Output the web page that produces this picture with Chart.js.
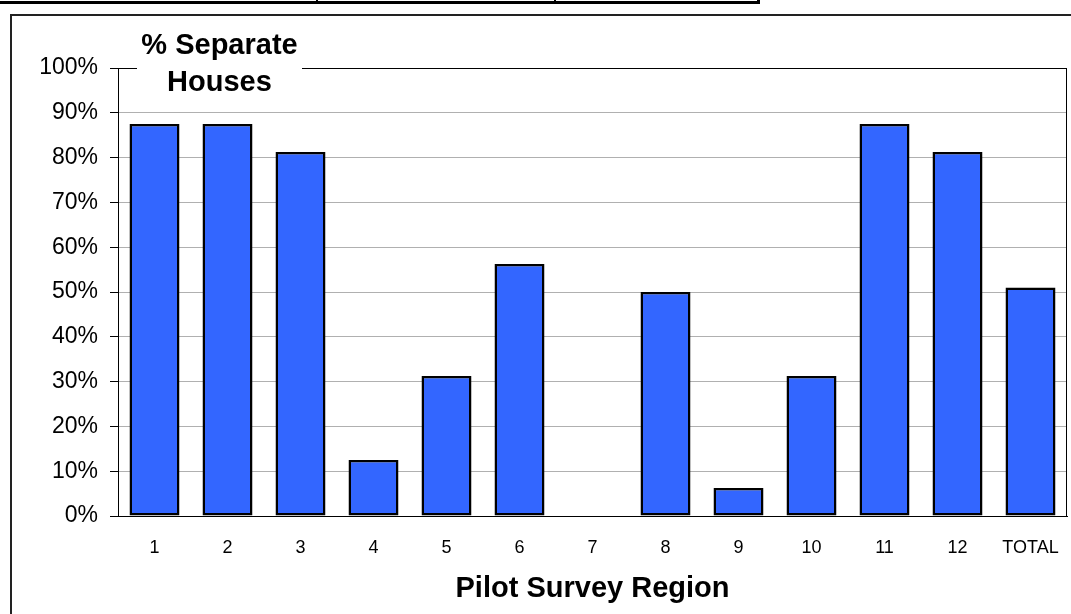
<!DOCTYPE html>
<html>
<head>
<meta charset="utf-8">
<title>% Separate Houses by Pilot Survey Region</title>
<script src="https://cdn.jsdelivr.net/npm/chart.js@4.4.1/dist/chart.umd.min.js"></script>
<style>
  html, body { margin: 0; padding: 0; background: #ffffff; }
  #regionChart { display: block; }
</style>
</head>
<body>
<canvas id="regionChart" width="1071" height="614"></canvas>
<script>
// Categories and values
const regions = ['1', '2', '3', '4', '5', '6', '7', '8', '9', '10', '11', '12', 'TOTAL'];
const separatePct = [87.5, 87.5, 81.25, 12.5, 31.25, 56.25, 0, 50, 6.25, 31.25, 87.5, 81.25, 51.0];
const yTickValues = [0, 10, 20, 30, 40, 50, 60, 70, 80, 90, 100];
const titleLines = ['% Separate', 'Houses'];
const axisTitle = 'Pilot Survey Region';

document.addEventListener('DOMContentLoaded', () => {

  const FONT = "'Liberation Sans', Arial, sans-serif";

  // =========================================================================
  // Frame: table edge at the top, outer box, plot border and title block
  // =========================================================================
  const framePlugin = {
    id: 'frame',
    beforeDraw(chart) {
      const { ctx, width, height } = chart;
      ctx.save();
      ctx.fillStyle = '#ffffff';
      ctx.fillRect(0, 0, width, height);

      // bottom edge of the table row above the chart
      ctx.fillStyle = '#000000';
      ctx.fillRect(0, 1, 760, 3);
      ctx.fillRect(316, 0, 2, 4);
      ctx.fillRect(554, 0, 2, 4);
      ctx.fillRect(757, 0, 3, 4);

      // chart box
      ctx.strokeStyle = '#222222';
      ctx.lineWidth = 2;
      ctx.beginPath();
      ctx.moveTo(11, height);
      ctx.lineTo(11, 15);
      ctx.lineTo(width, 15);
      ctx.stroke();
      ctx.restore();
    },
    afterDraw(chart) {
      const { ctx, chartArea: a } = chart;
      ctx.save();
      // plot area border
      ctx.strokeStyle = '#000000';
      ctx.lineWidth = 1;
      ctx.strokeRect(a.left + 0.5, a.top + 0.5, a.right - a.left - 1, a.bottom - a.top);

      // title block sits on top of the plot border
      ctx.fillStyle = '#ffffff';
      ctx.fillRect(137, 22, 165, 78);
      ctx.fillStyle = '#000000';
      ctx.font = 'bold 29px ' + FONT;
      ctx.textAlign = 'center';
      ctx.textBaseline = 'alphabetic';
      ctx.fillText(titleLines[0], 219.5, 54);
      ctx.fillText(titleLines[1], 219.5, 91);
      ctx.restore();
    }
  };

  // =========================================================================
  // Bar chart
  // =========================================================================
  const ctx = document.getElementById('regionChart').getContext('2d');

  new Chart(ctx, {
    type: 'bar',
    data: {
      labels: regions,
      datasets: [{
        label: titleLines.join(' '),
        data: separatePct,
        backgroundColor: '#3366ff',
        borderColor: '#000000',
        borderWidth: 2.5,
        borderSkipped: false,
        barPercentage: 0.685,
        categoryPercentage: 1.0
      }]
    },
    options: {
      responsive: false,
      animation: false,
      devicePixelRatio: 1,
      layout: { padding: { left: 0, top: 68, right: 4, bottom: 0 } },
      plugins: {
        legend: { display: false },
        title: { display: false },
        tooltip: { enabled: false }
      },
      scales: {
        x: {
          grid: { display: false, drawTicks: false },
          border: { display: true, color: '#000000', width: 1 },
          ticks: {
            color: '#000000',
            padding: 21,
            maxRotation: 0,
            autoSkip: false,
            font: { family: FONT, size: 18 }
          },
          title: {
            display: true,
            text: axisTitle,
            color: '#000000',
            padding: { top: 0, bottom: 8 },
            font: { family: FONT, size: 29, weight: 'bold' }
          },
          afterFit: (scale) => {
            scale.height = 98;
            scale.paddingLeft = 0;
            scale.paddingRight = 0;
          }
        },
        y: {
          min: 0,
          max: 100,
          afterBuildTicks: (scale) => {
            scale.ticks = yTickValues.map(v => ({ value: v }));
          },
          grid: {
            color: '#b0b0b0',
            lineWidth: 1,
            tickColor: '#000000',
            tickLength: 8
          },
          border: { display: true, color: '#000000', width: 1 },
          ticks: {
            color: '#000000',
            padding: 12,
            font: { family: FONT, size: 23 },
            callback: (value) => value + '%'
          },
          afterFit: (scale) => {
            scale.width = 118;
            scale.paddingTop = 0;
            scale.paddingBottom = 0;
          }
        }
      }
    },
    plugins: [framePlugin]
  });

});
</script>
</body>
</html>
